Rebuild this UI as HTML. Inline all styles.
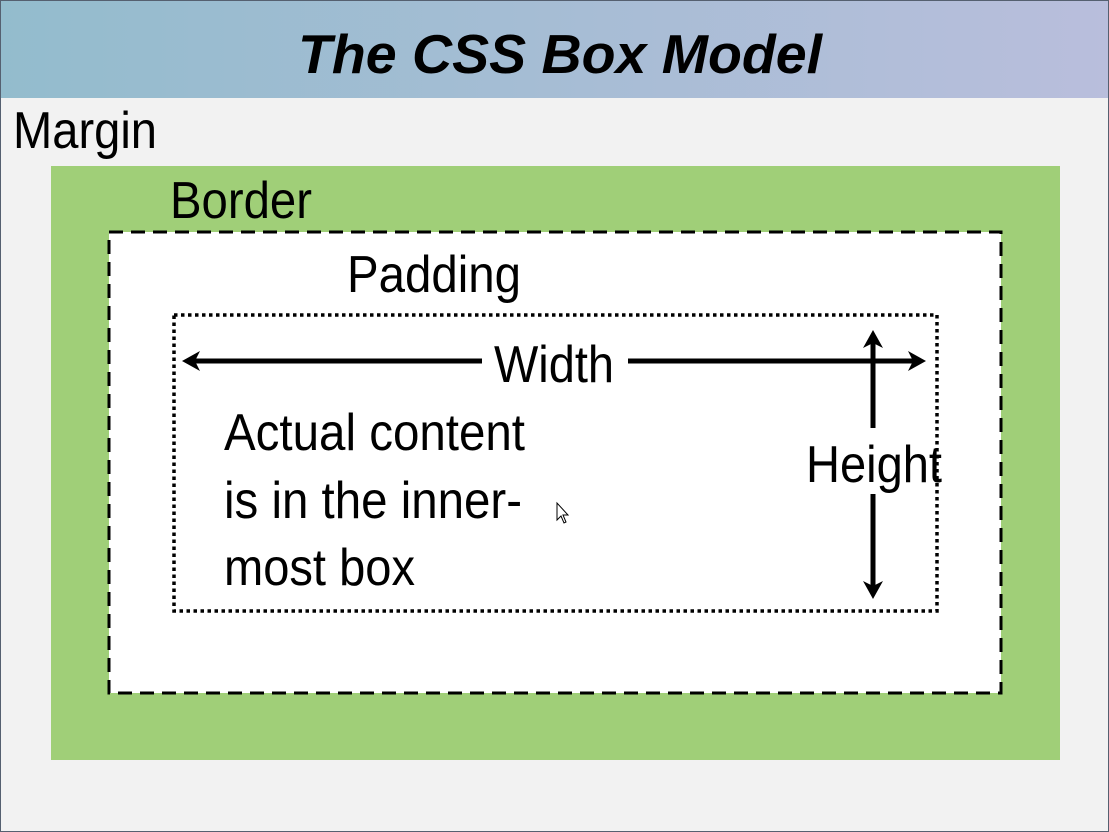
<!DOCTYPE html>
<html><head><meta charset="utf-8"><style>
html,body{margin:0;padding:0;background:#f2f2f2;}
svg{display:block;}
text{font-family:"Liberation Sans",sans-serif;fill:#000;}
</style></head><body>
<svg width="1109" height="832" viewBox="0 0 1109 832" xmlns="http://www.w3.org/2000/svg">
<defs><linearGradient id="g" x1="0" x2="1" y1="0" y2="0"><stop offset="0" stop-color="#93bccd"/><stop offset="1" stop-color="#b9bedc"/></linearGradient></defs>
<rect x="0" y="0" width="1109" height="832" fill="#f2f2f2"/>
<rect x="0" y="0" width="1109" height="98" fill="url(#g)"/>
<rect x="0.5" y="0.5" width="1108" height="831" fill="none" stroke="#556070" stroke-width="1"/>
<text x="298" y="73" font-size="55" font-weight="bold" font-style="italic" textLength="524" lengthAdjust="spacingAndGlyphs">The CSS Box Model</text>
<text x="13" y="148" font-size="52" textLength="144" lengthAdjust="spacingAndGlyphs">Margin</text>
<rect x="51" y="166" width="1009" height="594" fill="#a0cf78"/>
<text x="170" y="218" font-size="52" textLength="142" lengthAdjust="spacingAndGlyphs">Border</text>
<rect x="109" y="232" width="892" height="461" fill="#fff" stroke="#000" stroke-width="3" stroke-dasharray="14,8"/>
<text x="347" y="292" font-size="52" textLength="174" lengthAdjust="spacingAndGlyphs">Padding</text>
<rect x="174" y="315" width="763" height="296" fill="none" stroke="#000" stroke-width="3.5" stroke-dasharray="3.5,3.5"/>
<text x="494" y="382" font-size="52" textLength="120" lengthAdjust="spacingAndGlyphs">Width</text>
<g stroke="#000" stroke-width="5" fill="none">
<line x1="190" y1="361" x2="482" y2="361"/>
<line x1="628" y1="361" x2="918" y2="361"/>
<line x1="873" y1="338" x2="873" y2="428"/>
<line x1="873" y1="494" x2="873" y2="590"/>
</g>
<g fill="#000">
<polygon points="182,361 200,351 195,361 200,371"/>
<polygon points="926,361 908,351 913,361 908,371"/>
<polygon points="873,330 863,348 873,343 883,348"/>
<polygon points="873,599 863,581 873,586 883,581"/>
</g>
<text x="224" y="450" font-size="52" textLength="301" lengthAdjust="spacingAndGlyphs">Actual content</text>
<text x="224" y="518" font-size="52" textLength="298" lengthAdjust="spacingAndGlyphs">is in the inner-</text>
<text x="224" y="585" font-size="52" textLength="191" lengthAdjust="spacingAndGlyphs">most box</text>
<text x="806" y="482" font-size="52" textLength="136" lengthAdjust="spacingAndGlyphs">Height</text>
<polygon points="557,503 557,520 561,516 564,523 566,522 563,515 568,515" fill="#fff" stroke="#000" stroke-width="1"/>
</svg>
</body></html>
